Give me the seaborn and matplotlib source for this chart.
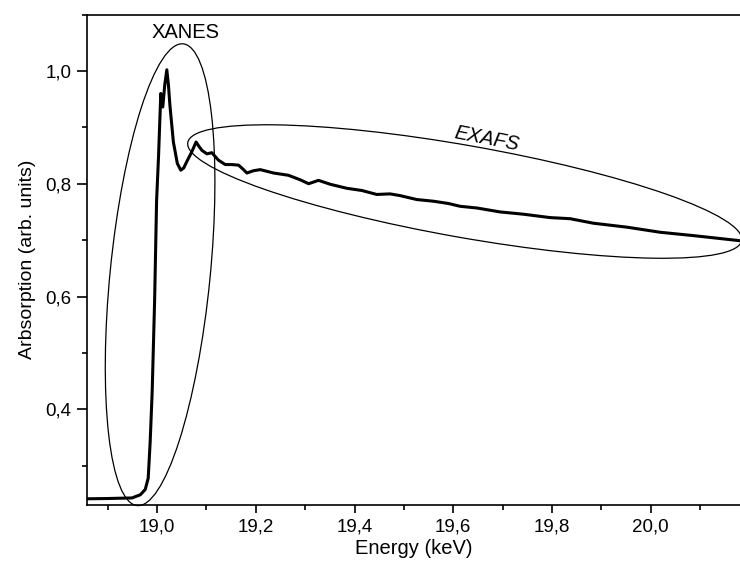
import numpy as np
import pandas as pd
import matplotlib
matplotlib.use("Agg")
import matplotlib.pyplot as plt
import seaborn as sns
from matplotlib.patches import Ellipse
from matplotlib.ticker import MultipleLocator, FuncFormatter
from matplotlib.transforms import IdentityTransform

# Spectrum (energy in keV, absorption in arb. units)
energy = [18.858, 18.900, 18.949, 18.966, 18.976, 18.982, 18.986, 18.990, 18.995,
          18.999, 19.003, 19.0075, 19.0115, 19.0155, 19.0197, 19.023, 19.026, 19.033,
          19.041, 19.048, 19.054, 19.060, 19.070, 19.079, 19.085, 19.091, 19.101,
          19.111, 19.124, 19.138, 19.151, 19.165, 19.174, 19.182, 19.195, 19.209,
          19.236, 19.266, 19.290, 19.307, 19.327, 19.351, 19.384, 19.415, 19.445,
          19.472, 19.492, 19.526, 19.560, 19.590, 19.614, 19.648, 19.695, 19.742,
          19.796, 19.837, 19.884, 19.952, 20.019, 20.087, 20.181]
absorption = [0.2415, 0.242, 0.243, 0.2486, 0.258, 0.278, 0.343, 0.43, 0.593,
              0.770, 0.850, 0.960, 0.936, 0.975, 1.002, 0.975, 0.939, 0.874,
              0.836, 0.824, 0.828, 0.839, 0.856, 0.874, 0.866, 0.859, 0.853,
              0.855, 0.842, 0.834, 0.834, 0.833, 0.826, 0.819, 0.823, 0.825,
              0.819, 0.815, 0.807, 0.800, 0.806, 0.799, 0.792, 0.788, 0.781,
              0.782, 0.779, 0.772, 0.769, 0.765, 0.760, 0.757, 0.750, 0.746,
              0.740, 0.738, 0.730, 0.723, 0.714, 0.708, 0.699]

x_ticks = [19.0, 19.2, 19.4, 19.6, 19.8, 20.0]
y_ticks = [0.4, 0.6, 0.8, 1.0]

# Regions marked on the plot: ends of the long axis (data units), half-width in px
xanes_ends = [(18.9595, 0.2295), (19.0527, 1.048)]
xanes_halfwidth = 50
exafs_ends = [(19.0622, 0.8731), (20.1844, 0.6993)]
exafs_halfwidth = 46

df = pd.DataFrame({"Energy": energy, "Absorption": absorption})

sns.set_style("ticks")
plt.rcParams["font.family"] = ["Liberation Sans", "DejaVu Sans"]
plt.rcParams["text.color"] = "black"
plt.rcParams["axes.labelcolor"] = "black"

fig = plt.figure(figsize=(7.4, 5.7), dpi=100)
ax = fig.add_axes([87 / 740, 65 / 570, 653 / 740, 490.5 / 570])

sns.lineplot(data=df, x="Energy", y="Absorption", color="black", linewidth=2.2,
             sort=False, ax=ax)

ax.set_xlim(18.858, 20.181)
ax.set_ylim(0.2305, 1.1)
ax.set_xticks(x_ticks)
ax.set_yticks(y_ticks)
ax.xaxis.set_minor_locator(MultipleLocator(0.1))
ax.yaxis.set_minor_locator(MultipleLocator(0.1))
comma = FuncFormatter(lambda v, pos: f"{v:.1f}".replace(".", ","))
ax.xaxis.set_major_formatter(comma)
ax.yaxis.set_major_formatter(comma)

ax.tick_params(axis="both", which="major", direction="out", width=1.2,
               labelsize=13.5, color="black", labelcolor="black")
ax.tick_params(axis="x", which="major", length=6)
ax.tick_params(axis="y", which="major", length=7, pad=4)
ax.tick_params(axis="both", which="minor", direction="out", width=1.2, length=3.5,
               color="black")

for side in ["left", "bottom", "top"]:
    ax.spines[side].set_linewidth(1.2)
    ax.spines[side].set_color("black")
ax.spines["right"].set_visible(False)

ax.set_xlabel("Energy (keV)", fontsize=14.5, labelpad=3, color="black")
ax.set_ylabel("Arbsorption (arb. units)", fontsize=14, labelpad=7, color="black")


def ring(ends, halfwidth):
    p0 = ax.transData.transform(ends[0])
    p1 = ax.transData.transform(ends[1])
    c = (p0 + p1) / 2
    d = p1 - p0
    length = np.hypot(d[0], d[1])
    angle = np.degrees(np.arctan2(d[1], d[0]))
    e = Ellipse(c, length, 2 * halfwidth, angle=angle, fill=False,
                edgecolor="black", linewidth=0.9, transform=IdentityTransform(),
                clip_on=False)
    fig.add_artist(e)


ring(xanes_ends, xanes_halfwidth)
ring(exafs_ends, exafs_halfwidth)

ax.text(19.058, 1.068, "XANES", fontsize=14.5, ha="center", va="center",
        color="black")
ax.text(19.667, 0.879, "EXAFS", fontsize=14.5, ha="center", va="center",
        style="italic", rotation=-11, color="black")

fig.savefig("out.png", dpi=100)
